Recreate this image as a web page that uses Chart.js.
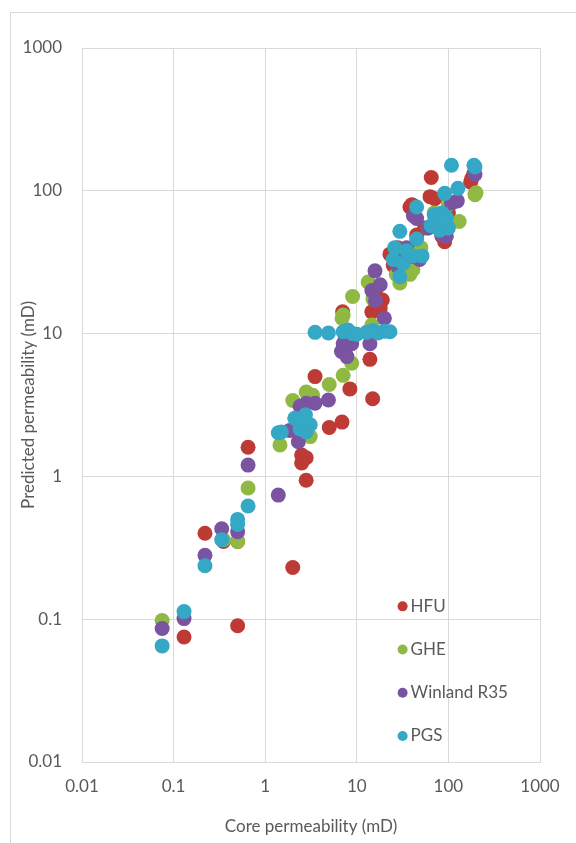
<!DOCTYPE html>
<html>
<head>
<meta charset="utf-8">
<script src="https://cdn.jsdelivr.net/npm/chart.js@4.4.1/dist/chart.umd.min.js"></script>
<style>
    html, body { margin: 0; padding: 0; background: #fff; overflow: hidden; }
    #frame {
        position: absolute; left: 10px; top: 12px; width: 600px; height: 860px;
        border-left: 1px solid #d9d9d9; border-top: 1px solid #d9d9d9;
    }
    #wrap { position: absolute; left: 0; top: 0; width: 576px; height: 843px; }
</style>
</head>
<body>
<div id="frame"></div>
<div id="wrap"><canvas id="permChart"></canvas></div>
<script>
const xTicks = [0.01, 0.1, 1, 10, 100, 1000];
const yTicks = [0.01, 0.1, 1, 10, 100, 1000];

const seriesNames = ['HFU', 'GHE', 'Winland R35', 'PGS'];
const seriesColors = ['#be3a34', '#8fb943', '#7a54a0', '#35a8c5'];

// HFU
const hfuX = [0.13, 0.5, 0.22, 0.35, 0.5, 2.0, 0.65, 2.8, 2.5, 2.5, 2.8, 3.5, 5.0, 6.9, 8.4, 14.9, 13.9, 7.0, 14.6, 19, 9.5, 16, 18, 23, 25, 30, 38, 40, 45, 63, 65, 71, 91, 80, 100, 180, 190, 175, 35, 28, 55, 85];
const hfuY = [0.075, 0.09, 0.4, 0.35, 0.35, 0.23, 1.6, 0.94, 1.24, 1.41, 1.35, 5.0, 2.2, 2.4, 4.1, 3.5, 6.6, 14.2, 14.2, 17.2, 9.8, 20, 15, 36, 30, 35, 77, 80, 49, 91, 124, 88, 44, 60, 70, 122, 132, 115, 32, 40, 55, 48];

// GHE
const gheX = [0.075, 0.35, 0.5, 0.65, 1.45, 3.1, 2.0, 2.8, 3.3, 5.0, 7.1, 2.5, 8.8, 6.9, 7.1, 9.0, 13.3, 14.6, 15, 27, 29.5, 38, 41, 35, 50, 60, 80, 131, 195, 200, 100, 70];
const gheY = [0.098, 0.36, 0.35, 0.83, 1.66, 1.9, 3.4, 3.9, 3.7, 4.4, 5.1, 2.3, 6.2, 12.8, 13.5, 18.2, 23, 11.5, 17.5, 26, 22.6, 26, 28, 32, 40, 55, 65, 61, 94, 97, 80, 70];

// Winland R35
const winX = [0.075, 0.13, 0.22, 0.335, 0.5, 0.65, 1.39, 1.85, 2.3, 2.4, 2.8, 3.5, 4.9, 7.1, 6.8, 7.8, 8.8, 7.5, 13.9, 20, 14.6, 15.8, 18, 16, 28, 40, 48.5, 41.5, 45, 85, 95, 108, 125, 195, 60, 70, 30, 35];
const winY = [0.086, 0.101, 0.28, 0.43, 0.41, 1.2, 0.74, 2.1, 1.75, 3.1, 3.25, 3.25, 3.43, 8.5, 7.5, 6.9, 8.5, 9.5, 8.5, 12.8, 20, 27.5, 22, 17, 29.5, 34.6, 33, 67, 64, 49, 48, 82, 85, 130, 55, 58, 35, 40];

// PGS
const pgsX = [0.075, 0.13, 0.22, 0.335, 0.5, 0.5, 0.65, 1.39, 1.5, 2.1, 2.4, 2.75, 3.1, 2.8, 3.5, 4.9, 7.1, 8.0, 9.0, 10, 12.8, 15, 17, 20, 23, 25, 26, 29.5, 29.5, 32, 35, 41, 45, 45, 51.5, 65, 70, 75, 80, 85, 90, 95, 100, 91, 127, 108, 195, 190];
const pgsY = [0.065, 0.113, 0.237, 0.36, 0.5, 0.46, 0.62, 2.02, 2.05, 2.55, 2.15, 2.7, 2.3, 2.05, 10.2, 10.1, 10.3, 10.6, 10.0, 9.9, 10.2, 10.5, 10.1, 10.4, 10.3, 33, 40, 52, 25, 31, 38, 35, 46, 77, 35, 57, 68, 60, 53, 70, 58, 65, 55, 96, 104, 151, 147, 151];

const seriesX = [hfuX, gheX, winX, pgsX];
const seriesY = [hfuY, gheY, winY, pgsY];

const fontFamily = 'Lato, "Open Sans", sans-serif';
const textColor = '#595959';
const gridColor = '#d9d9d9';

// legend drawn inside the plot, lower right
const insideLegend = {
    id: 'insideLegend',
    afterDraw(chart) {
        const ctx = chart.ctx;
        const area = chart.chartArea;
        const w = area.right - area.left;
        const h = area.bottom - area.top;
        ctx.save();
        ctx.font = '17px ' + fontFamily;
        ctx.textBaseline = 'middle';
        chart.data.datasets.forEach((ds, i) => {
            const cx = area.left + 0.70 * w;
            const cy = area.top + (0.782 + i * 0.0605) * h;
            ctx.fillStyle = ds.backgroundColor;
            ctx.beginPath();
            ctx.arc(cx, cy, 5, 0, Math.PI * 2);
            ctx.fill();
            ctx.fillStyle = textColor;
            ctx.fillText(ds.label, cx + 8, cy);
        });
        ctx.restore();
    }
};

const datasets = seriesNames.map((name, i) => ({
    label: name,
    data: seriesX[i].map((x, j) => ({ x: x, y: seriesY[i][j] })),
    backgroundColor: seriesColors[i],
    borderColor: seriesColors[i],
    borderWidth: 0,
    pointRadius: 7.5,
    pointHoverRadius: 7.5,
    order: seriesNames.length - 1 - i
}));

const ctx = document.getElementById('permChart').getContext('2d');
new Chart(ctx, {
    type: 'scatter',
    data: { datasets: datasets },
    options: {
        responsive: true,
        maintainAspectRatio: false,
        animation: false,
        events: [],
        layout: { padding: { left: 0, top: 48, right: 36, bottom: 0 } },
        plugins: {
            legend: { display: false },
            tooltip: { enabled: false }
        },
        scales: {
            x: {
                type: 'logarithmic',
                min: 0.01,
                max: 1000,
                afterBuildTicks: (scale) => { scale.ticks = xTicks.map(v => ({ value: v })); },
                afterFit: (scale) => { scale.height = 81; },
                grid: { color: gridColor, drawTicks: false },
                border: { color: gridColor },
                ticks: {
                    color: textColor,
                    font: { family: fontFamily, size: 17 },
                    padding: 14,
                    maxRotation: 0,
                    callback: (v) => String(v)
                },
                title: {
                    display: true,
                    text: 'Core permeability (mD)',
                    color: textColor,
                    font: { family: fontFamily, size: 17 },
                    padding: { top: 3, bottom: 6 }
                }
            },
            y: {
                type: 'logarithmic',
                min: 0.01,
                max: 1000,
                afterBuildTicks: (scale) => { scale.ticks = yTicks.map(v => ({ value: v })); },
                afterFit: (scale) => { scale.width = 82; },
                grid: { color: gridColor, drawTicks: false },
                border: { color: gridColor },
                ticks: {
                    color: textColor,
                    font: { family: fontFamily, size: 17 },
                    padding: 20,
                    callback: (v) => String(v)
                },
                title: {
                    display: true,
                    text: 'Predicted permeability (mD)',
                    color: textColor,
                    font: { family: fontFamily, size: 17 },
                    padding: { top: 18, bottom: 0 }
                }
            }
        }
    },
    plugins: [insideLegend]
});
</script>
</body>
</html>
